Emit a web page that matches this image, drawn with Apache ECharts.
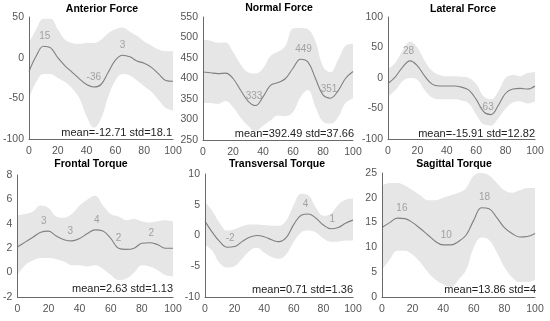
<!DOCTYPE html>
<html><head><meta charset="utf-8">
<script src="https://cdn.jsdelivr.net/npm/echarts@6/dist/echarts.min.js"></script>
<style>html,body{margin:0;padding:0;background:#fff}#c{width:550px;height:321px}</style>
</head><body><div id="c"></div>
<script>
// ---- data ----
const xPct = [0,5,10,15,20,25,30,35,40,45,50,55,60,65,70,75,80,85,90,95,100];
const xTickRange = [0, 100, 20];

const anteriorTitle = 'Anterior Force';
const anteriorMean  = [-17,2,14,12,0,-10,-18,-26,-33,-36,-33,-18,-3,3,1,-4,-7,-12,-20,-28,-29];
const anteriorUpper = [18,35,48,48,35,22,18,17,18,18,22,30,35,37,32,27,20,15,10,8,8];
const anteriorLower = [-50,-30,-20,-20,-25,-30,-38,-50,-72,-86,-75,-48,-28,-20,-22,-28,-35,-42,-52,-62,-65];
const anteriorPeaks = [[11,15,'15'],[45,-36,'-36'],[65,3,'3']];
const anteriorYTicks = [-100, 50, 50];
const anteriorStats = 'mean=-12.71 std=18.1';

const normalTitle = 'Normal Force';
const normalMean  = [416,414,412,413,400,372,345,334,355,383,390,400,425,447,440,400,360,352,370,400,417];
const normalUpper = [495,492,487,488,465,435,415,412,425,455,465,480,522,523,520,490,430,415,445,480,485];
const normalLower = [340,340,338,345,330,305,285,272,285,298,310,308,318,355,372,330,295,290,305,340,352];
const normalPeaks = [[34,333,'333'],[67,449,'449'],[84,351,'351']];
const normalYTicks = [250, 550, 50];
const normalStats = 'mean=392.49 std=37.66';

const lateralTitle = 'Lateral Force';
const lateralMean  = [-9,2,18,28,20,3,-10,-13,-13,-13,-15,-20,-35,-55,-60,-45,-25,-18,-17,-18,-13];
const lateralUpper = [15,25,45,60,50,28,12,5,3,3,2,0,-10,-30,-35,-22,0,5,3,8,10];
const lateralLower = [-30,-20,-5,0,-3,-20,-32,-35,-35,-35,-37,-42,-60,-76,-78,-66,-50,-40,-38,-42,-38];
const lateralPeaks = [[14,28,'28'],[67,-63,'-63']];
const lateralYTicks = [-100, 100, 50];
const lateralStats = 'mean=-15.91 std=12.82';

const frontalTitle = 'Frontal Torque';
const frontalMean  = [2.1,2.5,2.9,3.3,3.4,3.0,2.7,2.6,2.8,3.2,3.5,3.4,2.8,2.0,1.9,2.0,2.4,2.45,2.3,2.0,2.0];
const frontalUpper = [4.7,4.8,5.0,5.5,5.3,4.6,4.5,4.8,5.5,6.0,6.3,5.5,4.8,4.6,4.3,4.4,4.2,4.1,4.2,4.3,4.2];
const frontalLower = [-0.2,0.6,1.0,1.2,1.2,1.1,0.9,0.6,0.6,0.5,0.6,0.3,-0.2,-0.6,-0.5,0.0,0.6,0.5,0.2,-0.2,-0.3];
const frontalPeaks = [[17,3.4,'3'],[34,2.6,'3'],[51,3.5,'4'],[65,2.0,'2'],[86,2.45,'2']];
const frontalYTicks = [-2, 8, 2];
const frontalStats = 'mean=2.63 std=1.13';

const transversalTitle = 'Transversal Torque';
const transversalMean  = [2.3,0.5,-1.0,-1.9,-1.8,-1.0,-0.3,0.0,-0.2,-0.7,-1.0,-0.3,1.8,3.3,3.5,2.8,1.7,1.1,1.3,2.0,2.5];
const transversalUpper = [5.5,4.0,2.0,0.8,1.0,1.5,1.8,1.8,1.7,1.6,1.6,2.5,5.0,6.8,6.5,4.5,3.2,3.5,5.0,5.8,6.0];
const transversalLower = [-1.5,-2.5,-4.5,-5.2,-5.0,-3.8,-2.5,-2.0,-2.8,-3.5,-3.8,-3.0,-1.0,0.5,0.8,0.5,-0.5,-1.0,-1.0,-0.8,-0.8];
const transversalPeaks = [[17,-2.0,'-2'],[68,3.6,'4'],[86,1.1,'1']];
const transversalYTicks = [-10, 10, 5];
const transversalStats = 'mean=0.71 std=1.36';

const sagittalTitle = 'Sagittal Torque';
const sagittalMean  = [14.0,15.0,15.9,15.8,15.0,13.8,12.5,11.2,10.5,10.5,11.2,12.5,15.5,18.0,17.8,16.0,14.0,12.8,12.1,12.2,12.8];
const sagittalUpper = [22.5,23,23,22.5,21.5,20.5,19.5,19.5,20,20.5,21,22,24.5,25,24.5,23,21.5,21,21.5,22,22];
const sagittalLower = [5.5,7.5,9.3,9.3,8.5,7,5,3.5,2.5,2,3.5,5.5,10,12,11.5,9,6,4,3,3,3.5];
const sagittalPeaks = [[13,16,'16'],[42,10.5,'10'],[67,18.2,'18']];
const sagittalYTicks = [0, 25, 5];
const sagittalStats = 'mean=13.86 std=4';

// ---- layout / style ----
const FONT = '"Liberation Sans", Arial, sans-serif';
const AXIS_COLOR = '#6a6a6a';
const panels = [
  {title: anteriorTitle, mean: anteriorMean, upper: anteriorUpper, lower: anteriorLower, peaks: anteriorPeaks, yt: anteriorYTicks, stats: anteriorStats,
   grid: {left: 28, top: 17, width: 145, height: 122}, titlePos: [102, 9], statsPos: [172, 133]},
  {title: normalTitle, mean: normalMean, upper: normalUpper, lower: normalLower, peaks: normalPeaks, yt: normalYTicks, stats: normalStats,
   grid: {left: 203, top: 17, width: 150, height: 123}, titlePos: [279, 8], statsPos: [354, 134]},
  {title: lateralTitle, mean: lateralMean, upper: lateralUpper, lower: lateralLower, peaks: lateralPeaks, yt: lateralYTicks, stats: lateralStats,
   grid: {left: 388, top: 17, width: 147, height: 122}, titlePos: [463, 9], statsPos: [535, 134]},
  {title: frontalTitle, mean: frontalMean, upper: frontalUpper, lower: frontalLower, peaks: frontalPeaks, yt: frontalYTicks, stats: frontalStats,
   grid: {left: 17, top: 175, width: 156, height: 122}, titlePos: [91, 164], statsPos: [173, 289]},
  {title: transversalTitle, mean: transversalMean, upper: transversalUpper, lower: transversalLower, peaks: transversalPeaks, yt: transversalYTicks, stats: transversalStats,
   grid: {left: 205, top: 174, width: 148, height: 123}, titlePos: [277, 164], statsPos: [353, 290]},
  {title: sagittalTitle, mean: sagittalMean, upper: sagittalUpper, lower: sagittalLower, peaks: sagittalPeaks, yt: sagittalYTicks, stats: sagittalStats,
   grid: {left: 382, top: 173, width: 153, height: 124}, titlePos: [454, 164], statsPos: [536, 290]}
];

const option = {animation: false, grid: [], xAxis: [], yAxis: [], series: [], graphic: []};
const axisCommon = {
  z: 10,
  axisLine: {show: true, onZero: false, lineStyle: {color: AXIS_COLOR, width: 1}},
  axisTick: {show: false},
  splitLine: {show: false},
  axisLabel: {color: '#555', fontSize: 10.5, fontFamily: FONT}
};
panels.forEach((p, i) => {
  option.grid.push(Object.assign({containLabel: false}, p.grid));
  option.xAxis.push(Object.assign({}, axisCommon, {
    type: 'value', gridIndex: i, min: xTickRange[0], max: xTickRange[1], interval: xTickRange[2],
    axisLabel: Object.assign({}, axisCommon.axisLabel, {margin: 7})
  }));
  option.yAxis.push(Object.assign({}, axisCommon, {
    type: 'value', gridIndex: i, min: p.yt[0], max: p.yt[1], interval: p.yt[2],
    axisLabel: Object.assign({}, axisCommon.axisLabel, {margin: 5})
  }));
  // band: grey area under upper edge, then white area under lower edge
  option.series.push({
    type: 'line', xAxisIndex: i, yAxisIndex: i, z: 1,
    smooth: 0.4, symbol: 'none', lineStyle: {width: 0, opacity: 0}, silent: true,
    areaStyle: {color: '#e6e6e6', opacity: 1, origin: 'start'},
    data: xPct.map((x, k) => [x, p.upper[k]])
  });
  option.series.push({
    type: 'line', xAxisIndex: i, yAxisIndex: i, z: 1,
    smooth: 0.4, symbol: 'none', lineStyle: {width: 0, opacity: 0}, silent: true,
    areaStyle: {color: '#ffffff', opacity: 1, origin: 'start'},
    data: xPct.map((x, k) => [x, p.lower[k]])
  });
  option.series.push({
    type: 'line', xAxisIndex: i, yAxisIndex: i, z: 3, smooth: 0.4, symbol: 'none',
    lineStyle: {color: '#808080', width: 1.1},
    data: xPct.map((x, k) => [x, p.mean[k]])
  });
  option.series.push({
    type: 'scatter', xAxisIndex: i, yAxisIndex: i, z: 4, symbolSize: 1,
    itemStyle: {color: 'rgba(0,0,0,0)'},
    label: {show: true, position: 'top', distance: 4, color: '#909090', fontSize: 10, fontFamily: FONT,
      formatter: (d) => d.data[2]},
    data: p.peaks
  });
  option.graphic.push({
    type: 'text', x: p.titlePos[0], y: p.titlePos[1],
    style: {text: p.title, textAlign: 'center', textVerticalAlign: 'middle',
      font: 'bold 10.5px "Liberation Sans", Arial, sans-serif', fill: '#000'}
  });
  option.graphic.push({
    type: 'text', x: p.statsPos[0], y: p.statsPos[1], z: 100,
    style: {text: p.stats, textAlign: 'right', textVerticalAlign: 'middle',
      font: '11px "Liberation Sans", Arial, sans-serif', fill: '#222'}
  });
});

const chart = echarts.init(document.getElementById('c'), null, {renderer: 'canvas'});
chart.setOption(option);
</script>
</body></html>
